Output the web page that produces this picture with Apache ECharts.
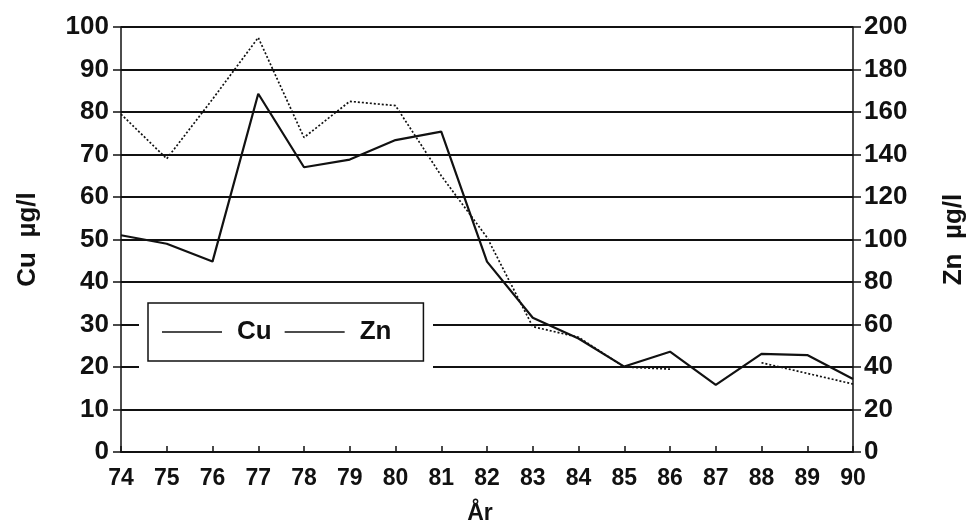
<!DOCTYPE html>
<html>
<head>
<meta charset="utf-8">
<script src="https://cdn.jsdelivr.net/npm/echarts@6/dist/echarts.min.js"></script>
<style>
html,body{margin:0;padding:0;background:#fff;}
#chart{width:971px;height:529px;}
</style>
</head>
<body>
<div id="chart"></div>
<script>
const years = ['74','75','76','77','78','79','80','81','82','83','84','85','86','87','88','89','90'];
const cuValues = [51, 49, 44.8, 84.3, 67, 68.8, 73.4, 75.4, 44.8, 31.6, 26.7, 20.1, 23.6, 15.8, 23.1, 22.8, 17.2];
const znValues = [159, 138, 166, 195, 148, 165, 163, 130, 101, 59, 54, 40, 39, null, 42, 37, 32];
const cuTicks = {min: 0, max: 100, interval: 10};
const znTicks = {min: 0, max: 200, interval: 20};

const ink = '#111';
const font = "'Liberation Sans', Arial, Helvetica, sans-serif";

const chart = echarts.init(document.getElementById('chart'), null, {renderer: 'canvas'});
chart.setOption({
  animation: false,
  backgroundColor: '#fff',
  grid: {left: 121, right: 118, top: 27, bottom: 77, containLabel: false, outerBoundsMode: 'none'},
  graphic: [{
    type: 'rect', z: 1, silent: true,
    shape: {x: 139, y: 294, width: 294, height: 76},
    style: {fill: '#fff'}
  }],
  legend: {
    left: 148, top: 303, orient: 'horizontal',
    z: 5,
    padding: [16, 32, 16, 14],
    itemGap: 13, itemWidth: 60, itemHeight: 1.6,
    icon: 'rect',
    borderColor: ink, borderWidth: 1.5, backgroundColor: '#fff',
    textStyle: {fontFamily: font, fontWeight: 'bold', fontSize: 26, color: ink, padding: [0, 0, 0, 10]},
    data: [
      {name: 'Cu', itemStyle: {color: ink}},
      {name: 'Zn', itemStyle: {color: ink}}
    ]
  },
  xAxis: {
    type: 'category', data: years, boundaryGap: false,
    name: 'År', nameLocation: 'middle', nameGap: 50,
    nameTextStyle: {fontFamily: font, fontWeight: 'bold', fontSize: 23, color: ink, padding: [0, 14, 0, 0]},
    axisLine: {lineStyle: {color: ink, width: 2}},
    axisTick: {inside: true, length: 6, alignWithLabel: true, lineStyle: {color: ink, width: 1.5}},
    axisLabel: {interval: 0, margin: 15, fontFamily: font, fontWeight: 'bold', fontSize: 23, color: ink},
    splitLine: {show: false}
  },
  yAxis: [{
    type: 'value', position: 'left', min: cuTicks.min, max: cuTicks.max, interval: cuTicks.interval,
    name: 'Cu  µg/l', nameLocation: 'middle', nameRotate: 90, nameGap: 80,
    nameTextStyle: {fontFamily: font, fontWeight: 'bold', fontSize: 26, color: ink},
    axisLine: {show: true, lineStyle: {color: ink, width: 1.5}},
    axisTick: {show: true, length: 8, lineStyle: {color: ink, width: 1.5}},
    axisLabel: {margin: 12, fontFamily: font, fontWeight: 'bold', fontSize: 26, color: ink},
    splitLine: {show: true, lineStyle: {color: ink, width: 2}}
  }, {
    type: 'value', position: 'right', min: znTicks.min, max: znTicks.max, interval: znTicks.interval,
    name: 'Zn  µg/l', nameLocation: 'middle', nameRotate: 90, nameGap: 88,
    nameTextStyle: {fontFamily: font, fontWeight: 'bold', fontSize: 26, color: ink},
    axisLine: {show: true, lineStyle: {color: ink, width: 1.5}},
    axisTick: {show: true, length: 8, lineStyle: {color: ink, width: 1.5}},
    axisLabel: {margin: 11, fontFamily: font, fontWeight: 'bold', fontSize: 26, color: ink},
    splitLine: {show: false}
  }],
  series: [{
    name: 'Cu', type: 'line', yAxisIndex: 0, data: cuValues,
    symbol: 'none', z: 3,
    lineStyle: {color: ink, width: 2.2, type: 'solid'},
    itemStyle: {color: ink}
  }, {
    name: 'Zn', type: 'line', yAxisIndex: 1, data: znValues,
    symbol: 'none', connectNulls: false, z: 3,
    lineStyle: {color: ink, width: 1.7, type: [2, 2]},
    itemStyle: {color: ink}
  }]
});
</script>
</body>
</html>
